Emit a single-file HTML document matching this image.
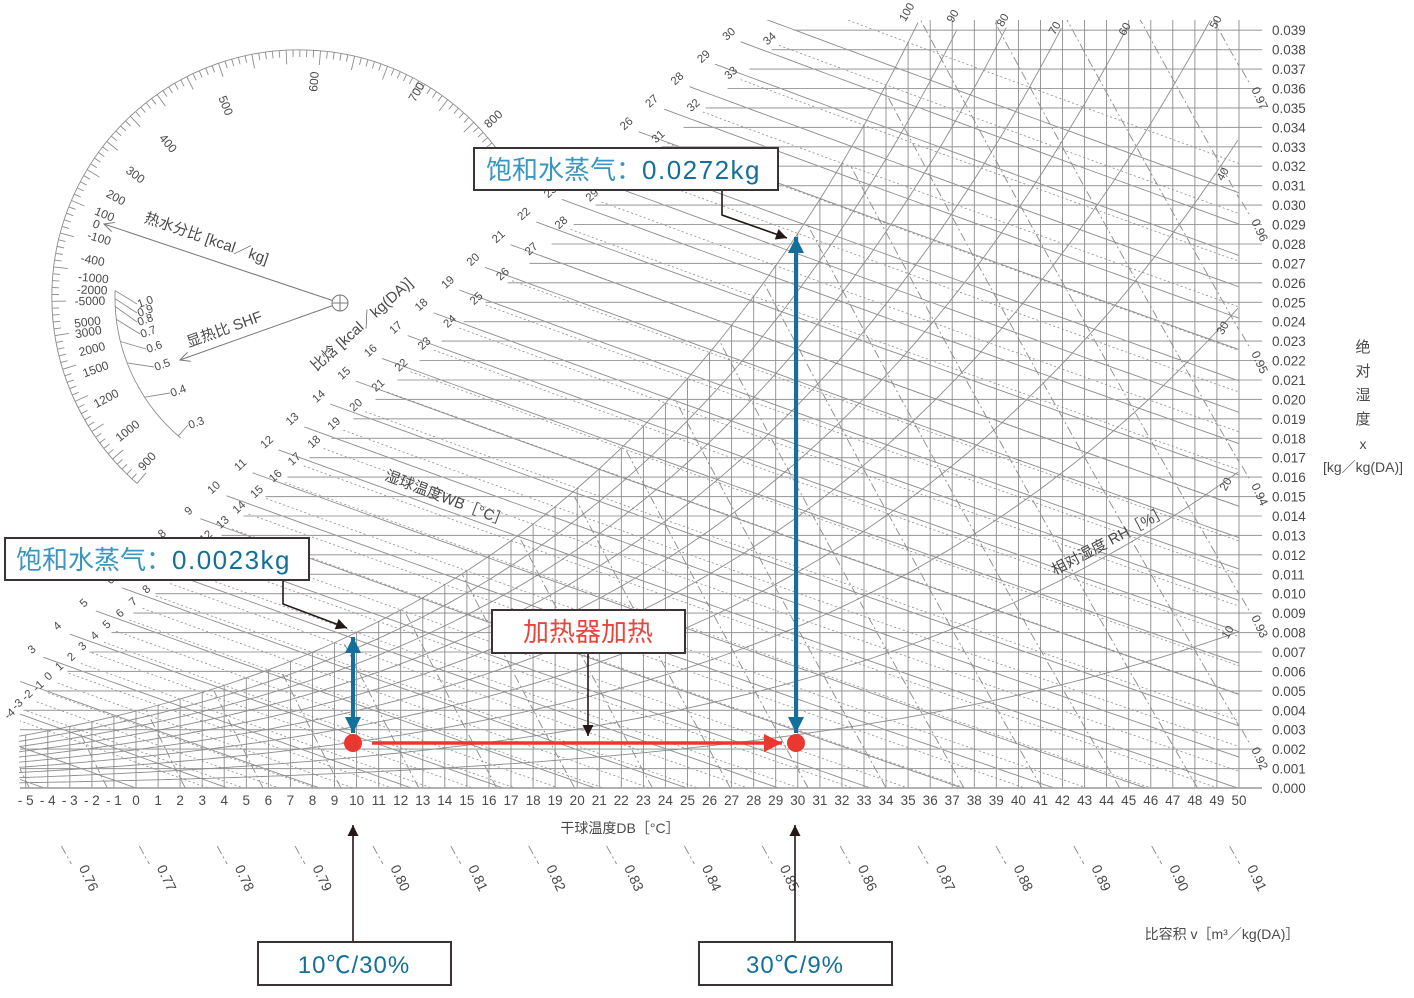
<!DOCTYPE html>
<html><head><meta charset="utf-8"><style>
html,body{margin:0;padding:0;background:#fff;}
svg{display:block;}
.t{font-family:"Liberation Sans","Noto Sans CJK SC",sans-serif;fill:#4a4a4a;}
.g{stroke:#8c8c8c;stroke-width:0.9;fill:none;}
.h{stroke:#a0a0a0;stroke-width:1.1;fill:none;}
.wb{stroke:#8a8a8a;stroke-width:0.8;fill:none;stroke-dasharray:2,2.5;}
.vl{stroke:#8a8a8a;stroke-width:0.9;fill:none;stroke-dasharray:9,3,2,3;}
.bx{fill:#fff;stroke:#3b3333;stroke-width:2;}
</style></head><body>
<svg id="s" width="1414" height="998" viewBox="0 0 1414 998" xmlns="http://www.w3.org/2000/svg">
<defs>
<clipPath id="c"><polygon points="20,678 765,20 1239,20 1239,788 20,788"/></clipPath>
<marker id="mb" viewBox="0 0 10 10" refX="10" refY="5" markerWidth="22" markerHeight="16" markerUnits="userSpaceOnUse" orient="auto-start-reverse"><path d="M0,0 L10,5 L0,10z" fill="#13709a"/></marker>
<marker id="mr" viewBox="0 0 10 10" refX="10" refY="5" markerWidth="30" markerHeight="18" markerUnits="userSpaceOnUse" orient="auto"><path d="M0,0 L10,5 L0,10z" fill="#e8382f"/></marker>
<marker id="mk" viewBox="0 0 10 10" refX="10" refY="5" markerWidth="18" markerHeight="11" markerUnits="userSpaceOnUse" orient="auto"><path d="M0,0 L10,5 L0,10z" fill="#231815"/></marker>
<marker id="mo" viewBox="0 0 10 10" refX="10" refY="5" markerWidth="12" markerHeight="10" markerUnits="userSpaceOnUse" orient="auto"><path d="M0,0 L10,5 L0,10" fill="none" stroke="#777" stroke-width="1"/></marker>
</defs>
<g id="grid"></g>
<g id="prot"></g>

<!-- axis labels -->
<g class="t" font-size="14">
<text x="620" y="833" text-anchor="middle">干球温度DB［°C］</text>
<text x="1222" y="939" text-anchor="middle">比容积 v［m³／kg(DA)］</text>
<text x="1363" y="352" text-anchor="middle" font-size="15">绝</text>
<text x="1363" y="376" text-anchor="middle" font-size="15">对</text>
<text x="1363" y="400" text-anchor="middle" font-size="15">湿</text>
<text x="1363" y="424" text-anchor="middle" font-size="15">度</text>
<text x="1363" y="449" text-anchor="middle">x</text>
<text x="1363" y="472" text-anchor="middle">[kg／kg(DA)]</text>
<text transform="translate(365,328) rotate(-42)" text-anchor="middle" font-size="15">比焓 [kcal／kg(DA)]</text>
<text transform="translate(445,503) rotate(21)" text-anchor="middle" font-size="15">湿球温度WB［°C］</text>
<text transform="translate(1112,545) rotate(-28)" text-anchor="middle" font-size="15">相对湿度 RH［%］</text>
<text transform="translate(205,243) rotate(19)" text-anchor="middle" font-size="15">热水分比 [kcal／kg]</text>
<text transform="translate(226,334) rotate(-20)" text-anchor="middle" font-size="15">显热比 SHF</text>
</g>

<!-- process -->
<line x1="372" y1="743" x2="782" y2="743" stroke="#e8382f" stroke-width="3.5" marker-end="url(#mr)"/>
<line x1="353" y1="637" x2="353" y2="733" stroke="#13709a" stroke-width="4" marker-start="url(#mb)" marker-end="url(#mb)"/>
<line x1="796" y1="237" x2="796" y2="733" stroke="#13709a" stroke-width="4" marker-start="url(#mb)" marker-end="url(#mb)"/>
<circle cx="353" cy="743" r="9" fill="#e8382f"/>
<circle cx="796" cy="743" r="9" fill="#e8382f"/>

<!-- callouts -->
<polyline points="722,190 722,215 787,238" fill="none" stroke="#231815" stroke-width="1.6" marker-end="url(#mk)"/>
<polyline points="283,580 283,604 347,628" fill="none" stroke="#231815" stroke-width="1.6" marker-end="url(#mk)"/>
<line x1="588" y1="653" x2="588" y2="736" stroke="#231815" stroke-width="1.6" marker-end="url(#mk)"/>
<line x1="353" y1="942" x2="353" y2="825" stroke="#231815" stroke-width="1.6" marker-end="url(#mk)"/>
<line x1="795" y1="942" x2="795" y2="825" stroke="#231815" stroke-width="1.6" marker-end="url(#mk)"/>

<rect class="bx" x="474" y="148" width="304" height="42"/>
<text x="486" y="179" font-size="26" font-family="Liberation Sans,'Noto Sans CJK SC',sans-serif"><tspan fill="#3a95c0">饱和水蒸气：</tspan><tspan fill="#13709a" letter-spacing="1.5">0.0272kg</tspan></text>
<rect class="bx" x="5" y="538" width="304" height="42"/>
<text x="16" y="569" font-size="26" font-family="Liberation Sans,'Noto Sans CJK SC',sans-serif"><tspan fill="#3a95c0">饱和水蒸气：</tspan><tspan fill="#13709a" letter-spacing="1.5">0.0023kg</tspan></text>
<rect class="bx" x="492" y="610" width="193" height="43"/>
<text x="588" y="641" font-size="26" text-anchor="middle" fill="#e8463c" font-family="Liberation Sans,'Noto Sans CJK SC',sans-serif">加热器加热</text>
<rect class="bx" x="258" y="942" width="193" height="43"/>
<text x="354" y="973" font-size="24" text-anchor="middle" fill="#13709a" letter-spacing="1" font-family="Liberation Sans,'Noto Sans CJK SC',sans-serif">10℃/30%</text>
<rect class="bx" x="699" y="942" width="193" height="43"/>
<text x="795" y="973" font-size="24" text-anchor="middle" fill="#13709a" letter-spacing="1" font-family="Liberation Sans,'Noto Sans CJK SC',sans-serif">30℃/9%</text>
</svg>
<script>
(function(){
var P=[],Q=[];
function px(T){return 136+22.06*T;}
function py(x){return 788-19430*x;}
function ps(T){return 0.61078*Math.exp(17.27*T/(T+237.3));}
function xs(T,phi){var p=phi*ps(T);return 1.05*0.622*p/(101.325-p);}
function yA(X){return 678-0.883*(X-20);}
function yB(X){return 591-0.885*(X-163);}
function f(n){return n.toFixed(1);}
function txt(x,y,s,rot,size,anchor){return '<text class="t" font-size="'+(size||11)+'" text-anchor="'+(anchor||'middle')+'" transform="translate('+f(x)+','+f(y)+')'+(rot?' rotate('+rot+')':'')+'">'+s+'</text>';}
// horizontals
for(var i=0;i<=39;i++){var y=py(i/1000);var xs0=Math.max(20,20+(678-y)/0.883+40);P.push('<line class="h" x1="'+f(xs0)+'" y1="'+f(y)+'" x2="1262" y2="'+f(y)+'"/>');
 Q.push(txt(1272,y+5,(i/1000).toFixed(3),0,13.5,'start'));}
// verticals
for(var T=-5;T<=50;T++){var X=px(T),Y=Math.max(20,py(xs(T,1)));P.push('<line class="g" x1="'+f(X)+'" y1="788" x2="'+f(X)+'" y2="'+f(Y)+'"/>');
 Q.push(txt(X,805,String(T).replace('-','- '),0,13.5));}
// RH curves
for(var k=1;k<=10;k++){var phi=k/10,pts=[];for(var T=-5.3;T<=50.01;T+=0.25){var Y=py(xs(T,phi));var X=px(T);if(Y<20){break;}pts.push(f(X)+','+f(Y));}P.push('<polyline class="g" points="'+pts.join(' ')+'"/>');}
// enthalpy lines
var E=[];
for(var k=-3;k<=31;k++){var h=k*4.186,st=null;for(var T=55;T>=-12;T-=0.05){var x=(h-1.006*T)/(2501+1.86*T),X=px(T),Y=py(x);if(X<20||Y<yA(X)){st=T;break;}}
 if(st===null)st=-12;var pts=[];for(var T=st;T<=56;T+=0.5){var x=(h-1.006*T)/(2501+1.86*T);pts.push(f(px(T))+','+f(py(x)));if(x<0)break;}
 E.push('<polyline class="g" points="'+pts.join(' ')+'"/>');
 var X0=px(st),Y0=py((h-1.006*st)/(2501+1.86*st));if(X0>22&&Y0>22&&!(k>=24&&k<=25))Q.push(txt(X0-9,Y0-5,k,-42,11.5));}
// wet bulb lines
var W=[];
for(var Tw=-4;Tw<=35;Tw++){var xw=xs(Tw,1),h=1.006*Tw+xw*(2501+1.86*Tw),st=null;for(var T=Tw;T>=-15;T-=0.05){var x=(h-1.006*T)/(2501+1.86*T),X=px(T),Y=py(x);if(X<20||Y<yB(X)){st=T;break;}}
 if(st===null)st=-15;var pts=[];for(var T=st;T<=56;T+=0.5){var x=(h-1.006*T)/(2501+1.86*T);pts.push(f(px(T))+','+f(py(x)));if(x<0)break;}
 W.push('<polyline class="wb" points="'+pts.join(' ')+'"/>');
 var X0=px(st),Y0=py((h-1.006*st)/(2501+1.86*st));if(X0>12&&Y0>22&&Y0<730)Q.push(txt(X0-7,Y0-4,Tw,-42,11.5));}
// volume lines
var V=[];
for(var j=0;j<=21;j++){var v=0.76+j*0.01,pts=[];for(var x=0;x<=0.0405;x+=0.0005){var T=v*101.325/(0.287*(1+1.6078*x))-273.15;var Y=py(x),X=px(T);if(Y<py(xs(T,1)))break;pts.push(f(X)+','+f(Y));}
 if(pts.length>1)V.push('<polyline class="vl" points="'+pts.join(' ')+'"/>');
 if(j<=15){var X0=px(v*101.325/0.287-273.15);Q.push('<line x1="'+f(X0+32)+'" y1="846" x2="'+f(X0+42)+'" y2="864" class="vl"/>');Q.push(txt(X0+55,880,v.toFixed(2),65,14));}
 else{var xe=(v*101.325/(0.287*323.15)-1)/1.6078,Y=py(xe);Q.push('<line x1="1242" y1="'+f(Y+4)+'" x2="1250" y2="'+f(Y+18)+'" class="vl"/>');Q.push(txt(1256,Y+34,v.toFixed(2),65,12));}}
// RH labels
var RL=[[100,910,14],[90,956,18],[80,1006,22],[70,1058,30],[60,1128,31],[50,1219,24],[40,1226,176],[30,1226,330],[20,1229,486],[10,1231,634]];
RL.forEach(function(r){Q.push(txt(r[1],r[2],r[0],-60,11.5));});
document.getElementById('grid').innerHTML='<g clip-path="url(#c)">'+E.join('')+W.join('')+V.join('')+'</g>'+P.join('')+'<line x1="20" y1="788" x2="1262" y2="788" stroke="#999" stroke-width="1.5"/>'+Q.join('');
// protractor
var cx=299,cy=297,r=247,R=[];function pt(a,rr){var t=a*Math.PI/180;return [cx+rr*Math.cos(t),cy+rr*Math.sin(t)];}
var a0=pt(131,r),a1=pt(324,r);R.push('<path class="g" d="M'+f(a0[0])+','+f(a0[1])+' A'+r+','+r+' 0 1 1 '+f(a1[0])+','+f(a1[1])+'"/>');
var n=0;for(var a=131;a<=324;a+=1.6){var l=(n%5==0)?14:7;var p1=pt(a,r),p2=pt(a,r-l);R.push('<line class="g" x1="'+f(p1[0])+'" y1="'+f(p1[1])+'" x2="'+f(p2[0])+'" y2="'+f(p2[1])+'"/>');n++;}
var OL=[['600',318,78],['700',420,90],['800',496,118],['500',222,103],['400',165,142],['300',133,174],['200',114,197],['100',103,214],['0',95,224],['-100',98,238],['-400',92,260],['-1000',93,278],['-2000',92,290],['-5000',90,301],['5000',88,322],['3000',89,332],['2000',93,349],['1500',97,369],['1200',108,398],['1000',130,430],['900',150,460]];
OL.forEach(function(o){var th=Math.atan2(o[2]-cy,o[1]-cx)*180/Math.PI;var rot=th+180;if(rot>90&&rot<270)rot-=180;if(rot>=270)rot-=360;R.push(txt(o[1],o[2]+4,o[0],rot,12));});
var r2=184,b0=pt(130,r2),b1=pt(182,r2);R.push('<path class="g" d="M'+f(b0[0])+','+f(b0[1])+' A'+r2+','+r2+' 0 0 1 '+f(b1[0])+','+f(b1[1])+'"/>');
var SL=[['1.0',182,137,304],['0.9',179.5,137,313],['0.8',177,137,322],['0.7',173,140,334],['0.6',166,146,349],['0.5',159,154,367],['0.4',147,170,393],['0.3',131,188,425]];
SL.forEach(function(s){var p=pt(s[1],r2);R.push('<line class="g" x1="'+f(p[0])+'" y1="'+f(p[1])+'" x2="'+s[2]+'" y2="'+s[3]+'"/>');R.push(txt(s[2]+2,s[3]+4,s[0],-20,11.5,'start'));});
R.push('<line x1="340" y1="303" x2="104" y2="224" stroke="#777" stroke-width="1" marker-end="url(#mo)"/>');
R.push('<line x1="340" y1="303" x2="180" y2="360" stroke="#777" stroke-width="1" marker-end="url(#mo)"/>');
R.push('<circle cx="340" cy="303" r="8" fill="#fff" stroke="#777"/><line x1="332" y1="303" x2="348" y2="303" stroke="#777"/><line x1="340" y1="295" x2="340" y2="311" stroke="#777"/>');
document.getElementById('prot').innerHTML=R.join('');
})();
</script>
</body></html>
